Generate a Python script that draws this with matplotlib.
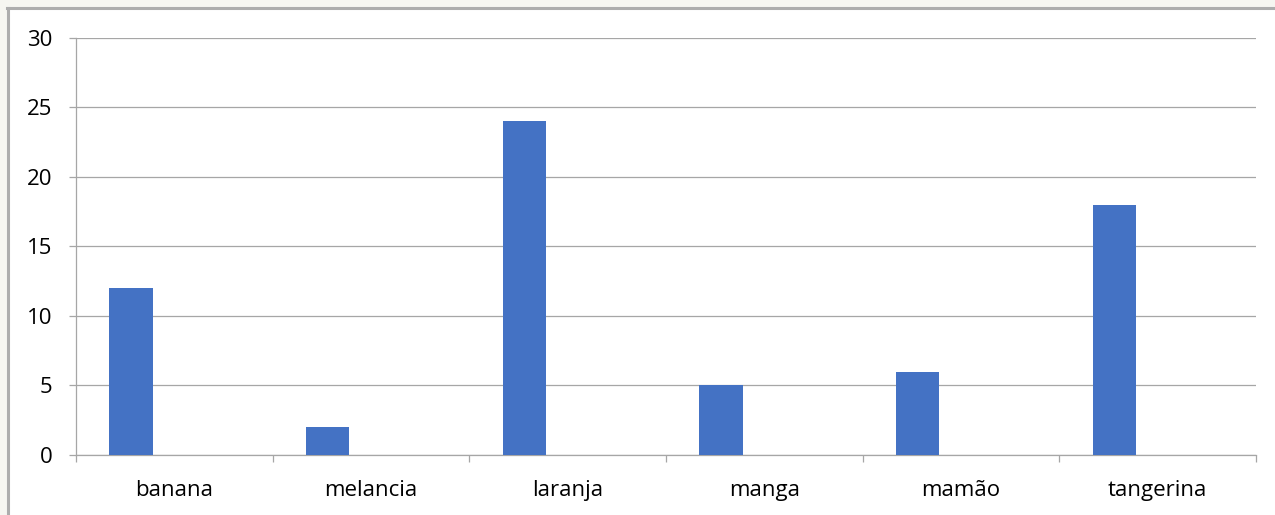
import matplotlib
matplotlib.use("Agg")
import matplotlib.pyplot as plt
from matplotlib.patches import Rectangle
from matplotlib.lines import Line2D
import numpy as np

categories = ["banana", "melancia", "laranja", "manga", "mamão", "tangerina"]
values = [12, 2, 24, 5, 6, 18]
yticks = [0, 5, 10, 15, 20, 25, 30]

plt.rcParams['font.family'] = ['Open Sans', 'DejaVu Sans']

W, H = 1275, 515
fig = plt.figure(figsize=(W / 100, H / 100), dpi=100)
fig.patch.set_facecolor('#f6f6f1')

# white panel with gray top/left border
fig.patches.append(Rectangle((7 / W, 0), 1, 1 - 7 / H, transform=fig.transFigure,
                             facecolor='white', edgecolor='none', zorder=-10))
fig.lines.append(Line2D([7 / W, 1], [1 - 7.5 / H, 1 - 7.5 / H], transform=fig.transFigure,
                        color='#adadad', lw=2.2, zorder=-5))
fig.lines.append(Line2D([7.5 / W, 7.5 / W], [0, 1 - 7.5 / H], transform=fig.transFigure,
                        color='#adadad', lw=2.2, zorder=-5))

ax = fig.add_axes([76 / W, 1 - 455 / H, (1256 - 76) / W, (455 - 37.5) / H])
ax.set_zorder(5)
ax.set_facecolor('none')

n = len(categories)
x = np.arange(n)
bw = 0.22
ax.bar(x - bw, values, width=bw, color='#4472c4', zorder=3)

ax.set_xlim(-0.5, n - 0.5)
ax.set_ylim(0, 30)
ax.set_yticks(yticks)
ax.set_yticklabels([str(v) for v in yticks], fontsize=16)
ax.set_xticks(x)
ax.set_xticklabels(categories, fontsize=16)
ax.tick_params(axis='x', length=0, pad=18)
ax.set_xticks(np.arange(-0.5, n, 1.0), minor=True)
ax.tick_params(axis='x', which='minor', length=5, color='#a6a6a6', width=0.9)
ax.tick_params(axis='y', length=5, color='#a6a6a6', width=0.9, pad=12)

ax.grid(axis='y', color='#a6a6a6', lw=0.9, zorder=0)
for s in ['top', 'right']:
    ax.spines[s].set_visible(False)
ax.spines['left'].set_color('#a6a6a6')
ax.spines['bottom'].set_color('#a6a6a6')
ax.spines['left'].set_linewidth(0.9)
ax.spines['bottom'].set_linewidth(0.9)

fig.savefig('out.png', dpi=100, facecolor=fig.get_facecolor())
